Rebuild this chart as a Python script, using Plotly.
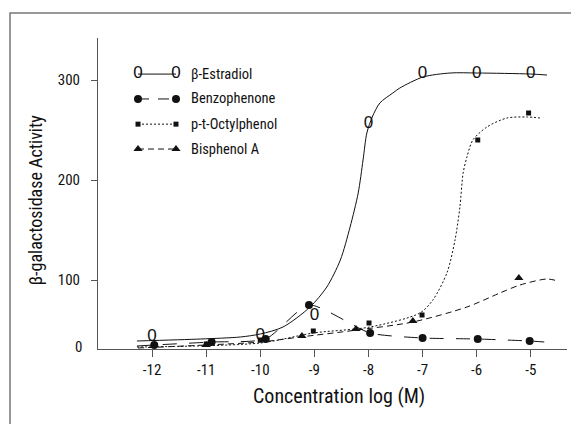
import plotly.graph_objects as go

# ---------------- data ----------------
# log concentration (M)
estradiol_x = [-12, -10, -9, -8, -7, -6, -5]
estradiol_y = [43, 44, 64, 256, 306, 306, 306]
estradiol_curve_x = [-12.28, -11.1, -10.37, -10.0, -9.58, -9.08, -8.77, -8.52, -8.34,
                     -8.19, -8.10, -8.03, -7.93, -7.79, -7.55, -7.42, -6.99, -6.49,
                     -5.99, -5.01, -4.70]
estradiol_curve_y = [39, 41, 43, 46, 53, 73, 93, 120, 153, 187, 220, 247, 263, 277,
                     287, 292, 303, 307, 307, 306, 305]

benzo_x = [-11.96, -10.9, -9.9, -9.1, -7.97, -7.0, -5.98, -5.02]
benzo_y = [35, 38, 41, 75, 47, 42, 41, 39]
benzo_curve_x = [-12.28, -11.96, -10.9, -9.9, -9.1, -7.97, -7.0, -5.98, -5.02, -4.75]
benzo_curve_y = [34, 35, 38, 41, 75, 47, 42, 41, 39, 38]

octyl_x = [-11, -10, -9.02, -7.99, -7.01, -5.98, -5.04]
octyl_y = [36, 40, 49, 57, 65, 240, 267]
octyl_curve_x = [-12.28, -10.0, -9.02, -7.97, -7.05, -6.81, -6.55, -6.40, -6.31, -6.25,
                 -6.18, -6.07, -5.81, -5.44, -5.07, -4.83]
octyl_curve_y = [33, 37, 47, 53, 67, 80, 107, 140, 173, 207, 223, 240, 253, 262, 263, 262]

bis_x = [-11.0, -9.23, -8.23, -7.18, -5.22]
bis_y = [35, 44, 51, 59, 102]
bis_curve_x = [-12.26, -11.0, -10.0, -9.26, -8.21, -7.18, -6.18, -5.57, -5.20, -4.70, -4.50]
bis_curve_y = [32, 35, 38, 43, 50, 58, 73, 87, 95, 101, 99]

x_ticks = [-12, -11, -10, -9, -8, -7, -6, -5]
y_ticks = [100, 200, 300]

series_names = ["β-Estradiol", "Benzophenone", "p-t-Octylphenol", "Bisphenol A"]

# ---------------- styling ----------------
NARROW = "Liberation Sans Narrow, Arial Narrow, Roboto Condensed, sans-serif"
INK = "#111111"
AXIS = "#555555"

fig = go.Figure()

# curves
fig.add_trace(go.Scatter(x=estradiol_curve_x, y=estradiol_curve_y, mode="lines",
                         line=dict(color=INK, width=1, shape="spline", smoothing=0.8)))
fig.add_trace(go.Scatter(x=benzo_curve_x, y=benzo_curve_y, mode="lines",
                         line=dict(color=INK, width=1, shape="spline", smoothing=0.6,
                                   dash="14px,12px")))
fig.add_trace(go.Scatter(x=octyl_curve_x, y=octyl_curve_y, mode="lines",
                         line=dict(color=INK, width=1, shape="spline", smoothing=0.8,
                                   dash="2px,2px")))
fig.add_trace(go.Scatter(x=bis_curve_x, y=bis_curve_y, mode="lines",
                         line=dict(color=INK, width=1, shape="spline", smoothing=0.8,
                                   dash="6px,4px")))

# markers
fig.add_trace(go.Scatter(x=octyl_x, y=octyl_y, mode="markers",
                         marker=dict(symbol="square", size=5, color=INK)))
fig.add_trace(go.Scatter(x=bis_x, y=bis_y, mode="markers",
                         marker=dict(symbol="triangle-up", size=8, color=INK)))
fig.add_trace(go.Scatter(x=benzo_x, y=benzo_y, mode="markers",
                         marker=dict(symbol="circle", size=8, color=INK)))
fig.add_trace(go.Scatter(x=estradiol_x, y=estradiol_y, mode="text",
                         text=["0"] * len(estradiol_x), textposition="middle center",
                         textfont=dict(family="Liberation Sans, Arial, sans-serif",
                                       size=17, color=INK)))

# ---------------- custom legend (overlay axes in plot fractions) ----------------
leg_x = [0.0853, 0.1663]
leg_rows = [0.884, 0.804, 0.723, 0.643]
fig.add_trace(go.Scatter(x=leg_x, y=[leg_rows[0]] * 2, mode="lines+text", text=["0", "0"],
                         textposition="middle center",
                         textfont=dict(family="Liberation Sans, Arial, sans-serif",
                                       size=17, color=INK),
                         line=dict(color=INK, width=1), xaxis="x2", yaxis="y2"))
fig.add_trace(go.Scatter(x=leg_x, y=[leg_rows[1]] * 2, mode="lines+markers",
                         marker=dict(symbol="circle", size=8, color=INK),
                         line=dict(color=INK, width=1, dash="11px,9px"),
                         xaxis="x2", yaxis="y2"))
fig.add_trace(go.Scatter(x=leg_x, y=[leg_rows[2]] * 2, mode="lines+markers",
                         marker=dict(symbol="square", size=5, color=INK),
                         line=dict(color=INK, width=1, dash="2px,2px"),
                         xaxis="x2", yaxis="y2"))
fig.add_trace(go.Scatter(x=leg_x, y=[leg_rows[3]] * 2, mode="lines+markers",
                         marker=dict(symbol="triangle-up", size=8, color=INK),
                         line=dict(color=INK, width=1, dash="6px,4px"),
                         xaxis="x2", yaxis="y2"))

annotations = []
for name, yy in zip(series_names, leg_rows):
    annotations.append(dict(x=0.194, y=yy, xref="x2", yref="y2", text=name,
                            showarrow=False, xanchor="left", yanchor="middle",
                            font=dict(family=NARROW, size=14.5, color=INK)))

# y-axis title
annotations.append(dict(x=-0.134, y=0.479, xref="paper", yref="paper",
                        text="β-galactosidase Activity", textangle=-90, showarrow=False,
                        xanchor="center", yanchor="middle",
                        font=dict(family=NARROW, size=18, color=INK)))
# x-axis title
annotations.append(dict(x=0.514, y=-0.152, xref="paper", yref="paper",
                        text="Concentration log (M)", showarrow=False,
                        xanchor="center", yanchor="middle",
                        font=dict(family=NARROW, size=20, color=INK)))
# zero label at the foot of the axis
annotations.append(dict(x=-0.029, y=33, xref="paper", yref="y", text="0",
                        showarrow=False, xanchor="right", yanchor="middle",
                        font=dict(family=NARROW, size=15, color=INK)))

# the page adds an 8px body margin, so the figure is drawn 8px smaller and offset
fig.update_layout(
    width=571, height=416,
    margin=dict(l=90, r=12, t=30, b=75),
    paper_bgcolor="white", plot_bgcolor="white",
    showlegend=False,
    annotations=annotations,
    xaxis=dict(range=[-13.0, -4.33], tickvals=x_ticks, ticktext=[str(t) for t in x_ticks],
               showgrid=False, zeroline=False, showline=True, linecolor=AXIS, linewidth=1,
               ticks="outside", ticklen=7, tickcolor=AXIS, tickwidth=1,
               tickfont=dict(family=NARROW, size=15, color=INK)),
    yaxis=dict(range=[31, 342], tickvals=y_ticks, ticktext=[str(t) for t in y_ticks],
               showgrid=False, zeroline=False, showline=True, linecolor=AXIS, linewidth=1,
               ticks="outside", ticklen=6, tickcolor=AXIS, tickwidth=1,
               ticklabelstandoff=8,
               tickfont=dict(family=NARROW, size=15, color=INK)),
    xaxis2=dict(range=[0, 1], overlaying="x", visible=False, fixedrange=True),
    yaxis2=dict(range=[0, 1], overlaying="y", visible=False, fixedrange=True),
    shapes=[dict(type="rect", xref="paper", yref="paper",
                 x0=-0.1876, x1=1.6, y0=-0.6, y1=1.0804,
                 line=dict(color="#777777", width=1.5), fillcolor="rgba(0,0,0,0)",
                 layer="below")],
)

fig.write_html("out.html")
